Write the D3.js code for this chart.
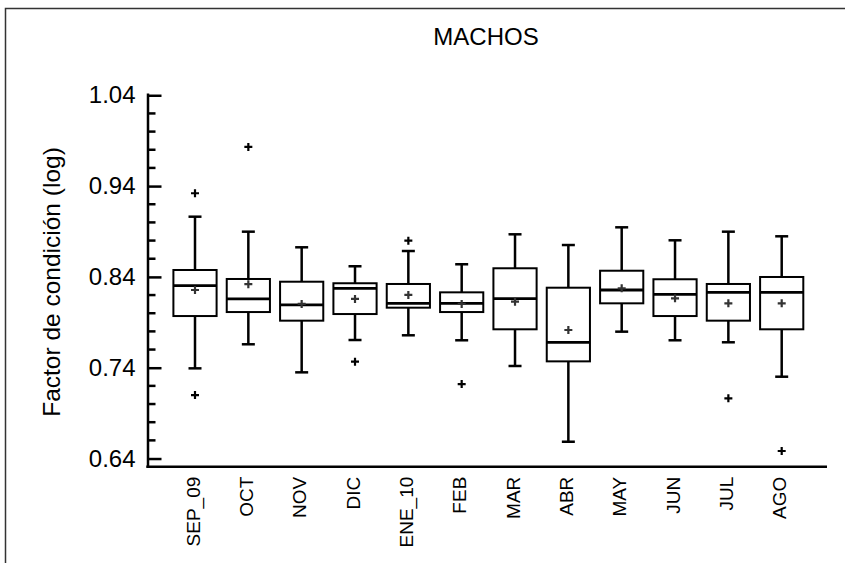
<!DOCTYPE html>
<html>
<head>
<meta charset="utf-8">
<script src="https://cdn.jsdelivr.net/npm/d3@7"></script>
<style>
  html, body { margin: 0; padding: 0; background: #fff; }
  svg { display: block; font-family: "Liberation Sans", Arial, sans-serif; }
</style>
</head>
<body>
<svg id="chart" width="845" height="563"></svg>
<script>
// Monthly condition factor (log) of males, Sep 2009 - Aug 2010
const months   = ["SEP_09", "OCT", "NOV", "DIC", "ENE_10", "FEB", "MAR", "ABR", "MAY", "JUN", "JUL", "AGO"];
const whiskLow = [0.7393, 0.7658, 0.7349, 0.7705, 0.7757, 0.7702, 0.7419, 0.6585, 0.7797, 0.7702, 0.7680, 0.7301];
const q1       = [0.7969, 0.8013, 0.7918, 0.7991, 0.8061, 0.8013, 0.7823, 0.7470, 0.8109, 0.7969, 0.7918, 0.7823];
const medians  = [0.8303, 0.8157, 0.8091, 0.8274, 0.8109, 0.8109, 0.8160, 0.7680, 0.8256, 0.8208, 0.8230, 0.8230];
const q3       = [0.8476, 0.8377, 0.8347, 0.8330, 0.8322, 0.8230, 0.8495, 0.8281, 0.8468, 0.8374, 0.8322, 0.8399];
const whiskHigh= [0.9063, 0.8898, 0.8726, 0.8517, 0.8685, 0.8539, 0.8869, 0.8751, 0.8946, 0.8803, 0.8898, 0.8847];
const means    = [0.8256, 0.8320, 0.8102, 0.8157, 0.8201, 0.8102, 0.8127, 0.7815, 0.8274, 0.8164, 0.8109, 0.8109];
const outliers = [[0.9321, 0.7099], [0.9831], [], [0.7466], [0.8799], [0.7220], [], [], [], [], [0.7063], [0.6483]];
const yTicks   = [0.64, 0.74, 0.84, 0.94, 1.04];
const yMinorTicks = d3.range(0.64, 1.0401, 0.02);

const svg = d3.select("#chart");

// outer frame
svg.append("rect")
  .attr("x", 5.5).attr("y", 8.5)
  .attr("width", 900).attr("height", 600)
  .attr("fill", "none").attr("stroke", "#333").attr("stroke-width", 1.5);

const x = d3.scalePoint().domain(months).range([195, 781.7]);
const y = d3.scaleLinear().domain([0.631, 1.0425]).range([466.7, 93]);
const boxW = x.step() * 0.81;

// title
svg.append("text")
  .attr("x", 486).attr("y", 45)
  .attr("text-anchor", "middle")
  .attr("font-size", 24)
  .attr("fill", "#000")
  .text("MACHOS");

// y axis with inward ticks
const yAxis = svg.append("g")
  .attr("transform", "translate(147.5,0)")
  .call(d3.axisLeft(y).tickValues(yTicks).tickFormat(d3.format(".2f"))
    .tickSizeInner(-14).tickSizeOuter(0).tickPadding(12));
yAxis.select(".domain").attr("stroke", "#000").attr("stroke-width", 2.5);
yAxis.selectAll(".tick line").attr("stroke", "#000").attr("stroke-width", 2.5);
yAxis.selectAll(".tick text").attr("font-size", 24).attr("fill", "#000")
  .attr("font-family", "Liberation Sans, Arial, sans-serif");

yAxis.selectAll(".minor")
  .data(yMinorTicks.filter(v => !yTicks.some(t => Math.abs(t - v) < 1e-6)))
  .join("line")
  .attr("x1", 0).attr("x2", 8)
  .attr("y1", d => y(d)).attr("y2", d => y(d))
  .attr("stroke", "#000").attr("stroke-width", 2.5);

// x axis: baseline and rotated month labels
const xAxis = svg.append("g")
  .attr("transform", "translate(0,466.7)")
  .call(d3.axisBottom(x).tickSize(0).tickPadding(0));
xAxis.select(".domain").remove();
xAxis.append("line")
  .attr("x1", 146.3).attr("x2", 827)
  .attr("stroke", "#000").attr("stroke-width", 2.5);
xAxis.selectAll(".tick text")
  .attr("font-size", 19).attr("fill", "#000")
  .attr("font-family", "Liberation Sans, Arial, sans-serif")
  .attr("text-anchor", "end")
  .attr("transform", "rotate(-90)")
  .attr("x", -10).attr("y", -2).attr("dy", "0.33em")
  .attr("dx", 0);

// boxes
const stats = months.map((m, i) => ({
  m, lo: whiskLow[i], q1: q1[i], med: medians[i], q3: q3[i], hi: whiskHigh[i],
  mean: means[i], out: outliers[i]
}));

const g = svg.append("g").attr("stroke", "#000").attr("fill", "none");
const box = g.selectAll(".box").data(stats).join("g").attr("class", "box");

// whiskers
box.append("line")
  .attr("x1", d => x(d.m)).attr("x2", d => x(d.m))
  .attr("y1", d => y(d.hi)).attr("y2", d => y(d.q3))
  .attr("stroke-width", 2.5);
box.append("line")
  .attr("x1", d => x(d.m)).attr("x2", d => x(d.m))
  .attr("y1", d => y(d.q1)).attr("y2", d => y(d.lo))
  .attr("stroke-width", 2.5);
// caps
["hi", "lo"].forEach(k => {
  box.append("line")
    .attr("x1", d => x(d.m) - 6.5).attr("x2", d => x(d.m) + 6.5)
    .attr("y1", d => y(d[k])).attr("y2", d => y(d[k]))
    .attr("stroke-width", 2.5);
});
// box
box.append("rect")
  .attr("x", d => x(d.m) - boxW / 2).attr("width", boxW)
  .attr("y", d => y(d.q3)).attr("height", d => y(d.q1) - y(d.q3))
  .attr("fill", "#fff").attr("stroke-width", 2);
// median
box.append("line")
  .attr("x1", d => x(d.m) - boxW / 2).attr("x2", d => x(d.m) + boxW / 2)
  .attr("y1", d => y(d.med)).attr("y2", d => y(d.med))
  .attr("stroke-width", 2.8);

// plus-shaped markers for means and outliers
function plus(sel, cx, cy, color) {
  sel.append("path")
    .attr("d", d => {
      const px = cx(d), py = cy(d);
      return `M${px - 4},${py}H${px + 4}M${px},${py - 4}V${py + 4}`;
    })
    .attr("stroke", color).attr("stroke-width", 2.2);
}
plus(box, d => x(d.m), d => y(d.mean), "#333");

const outs = stats.flatMap(d => d.out.map(v => ({ m: d.m, v })));
plus(g.selectAll(".out").data(outs).enter().append("g").attr("class", "out"),
  d => x(d.m), d => y(d.v), "#000");

// y axis title
svg.append("text")
  .attr("transform", "translate(60,282) rotate(-90)")
  .attr("text-anchor", "middle")
  .attr("font-size", 24.5)
  .attr("fill", "#000")
  .text("Factor de condición (log)");
</script>
</body>
</html>
